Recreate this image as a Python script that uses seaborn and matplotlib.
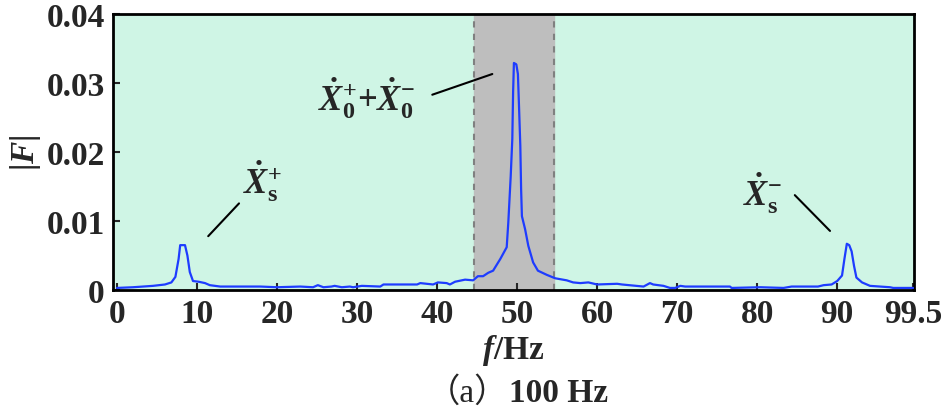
import pandas as pd
import seaborn as sns
import matplotlib.pyplot as plt

# spectrum |F| (f in Hz)
freq = [0.0, 2.0, 4.5, 6.0, 6.8, 7.3, 7.7, 7.9, 8.5, 8.8, 9.1, 9.5, 10.2, 11.0,
        11.6, 12.9, 17.9, 20.0, 22.9, 24.5, 25.1, 25.8, 26.8, 27.2, 28.1, 29.1,
        29.5, 30.6, 32.9, 33.3, 37.5, 37.9, 39.5, 40.1, 41.2, 41.6, 42.25, 43.5,
        44.5, 45.1, 45.75, 46.4, 47.0, 47.9, 48.7, 48.9, 49.2, 49.4, 49.5, 49.6,
        49.9, 50.1, 50.25, 50.4, 50.5, 50.6, 51.0, 51.4, 52.0, 52.6, 53.7, 54.75,
        56.2, 57.0, 57.9, 58.9, 60.0, 62.5, 63.1, 65.8, 66.6, 67.0, 68.3, 69.1,
        69.75, 70.4, 71.0, 76.6, 76.8, 80.4, 83.3, 84.3, 87.6, 88.3, 89.3, 90.0,
        90.6, 90.9, 91.2, 91.5, 91.8, 92.1, 92.4, 93.1, 94.1, 96.6, 97.0, 99.5]
amp = [0.0003, 0.0004, 0.0006, 0.0008, 0.0011, 0.0019, 0.0045, 0.0065, 0.0065,
       0.0050, 0.0026, 0.0013, 0.0012, 0.0010, 0.0007, 0.0005, 0.0005, 0.0004,
       0.0005, 0.0004, 0.0007, 0.0004, 0.0005, 0.0006, 0.0004, 0.0005, 0.0004,
       0.0006, 0.0005, 0.0008, 0.0008, 0.0010, 0.0008, 0.0011, 0.0010, 0.0008,
       0.0012, 0.0015, 0.0014, 0.0020, 0.0020, 0.0025, 0.0028, 0.0045, 0.0062,
       0.0098, 0.0165, 0.0219, 0.0287, 0.0329, 0.0327, 0.0313, 0.0262, 0.0209,
       0.0146, 0.0107, 0.0088, 0.0064, 0.0040, 0.0028, 0.0022, 0.0017, 0.0014,
       0.0011, 0.0010, 0.0011, 0.0008, 0.0009, 0.0008, 0.0005, 0.0010, 0.0008,
       0.0006, 0.0003, 0.0003, 0.0006, 0.0005, 0.0005, 0.0003, 0.0004, 0.0003,
       0.0005, 0.0005, 0.0007, 0.0008, 0.0013, 0.0021, 0.0045, 0.0067, 0.0065,
       0.0056, 0.0035, 0.0018, 0.0011, 0.0006, 0.0004, 0.0003, 0.0003]

band = [44.6, 54.6]
xticks = [0, 10, 20, 30, 40, 50, 60, 70, 80, 90, 99.5]
xticklabels = ['0', '10', '20', '30', '40', '50', '60', '70', '80', '90', '99.5']
yticks = [0, 0.01, 0.02, 0.03, 0.04]
yticklabels = ['0', '0.01', '0.02', '0.03', '0.04']


def main():
    df = pd.DataFrame({'f': freq, 'F': amp})

    sns.set_style('ticks')
    plt.rcParams['font.family'] = ['Liberation Serif', 'Noto Sans CJK SC']
    plt.rcParams['mathtext.fontset'] = 'custom'
    plt.rcParams['mathtext.rm'] = 'Liberation Serif:bold'
    plt.rcParams['mathtext.it'] = 'Liberation Serif:bold:italic'
    plt.rcParams['mathtext.bf'] = 'Liberation Serif:bold'

    fig = plt.figure(figsize=(9.47, 4.14), dpi=100)
    ax = fig.add_axes([0.1193, 0.2971, 0.8459, 0.6667])
    ax.set_facecolor('#cff5e5')

    ax.axvspan(band[0], band[1], color='#bebebe', zorder=0)
    for b in band:
        ax.axvline(b, color='#808080', ls=(0, (3, 3)), lw=1.5, zorder=1)

    sns.lineplot(data=df, x='f', y='F', ax=ax, color='#1e3cff', lw=1.6,
                 estimator=None, sort=False, zorder=3)

    ax.set_xlim(-0.5, 99.6)
    ax.set_ylim(0, 0.04)
    ax.set_xticks(xticks)
    ax.set_xticklabels(xticklabels, fontweight='bold')
    ax.set_yticks(yticks)
    ax.set_yticklabels(yticklabels, fontweight='bold')
    ax.tick_params(direction='in', length=5, width=1.5, labelsize=24, pad=6)
    for s in ax.spines.values():
        s.set_linewidth(2)
        s.set_color('black')

    ax.set_xlabel(r'$f$/Hz', fontsize=24, labelpad=2, fontweight='bold')
    ax.set_ylabel(r'$|F|$', fontsize=24, labelpad=2)
    fig.text(0.537, 0.03, '（a）', fontsize=24, ha='right', va='baseline')
    fig.text(0.537, 0.03, '100 Hz', fontsize=24, ha='left', va='baseline',
             fontweight='bold')

    # peak labels with leader lines
    ax.plot([11.4, 15.25], [0.0078, 0.01255], color='black', lw=1.5)
    ax.text(15.75, 0.0141, r'$\dot{X}_\mathrm{s}^{+}$', fontsize=25, va='baseline')
    ax.plot([39.4, 46.9], [0.0283, 0.0313], color='black', lw=1.5)
    ax.text(25.1, 0.0261, r'$\dot{X}_0^{+}$+$\dot{X}_0^{-}$', fontsize=25,
            va='baseline', fontweight='bold')
    ax.plot([84.7, 89.1], [0.01375, 0.00856], color='black', lw=1.5)
    ax.text(78.25, 0.0124, r'$\dot{X}_\mathrm{s}^{-}$', fontsize=25, va='baseline')

    fig.savefig('out.png', dpi=100)


if __name__ == '__main__':
    main()
